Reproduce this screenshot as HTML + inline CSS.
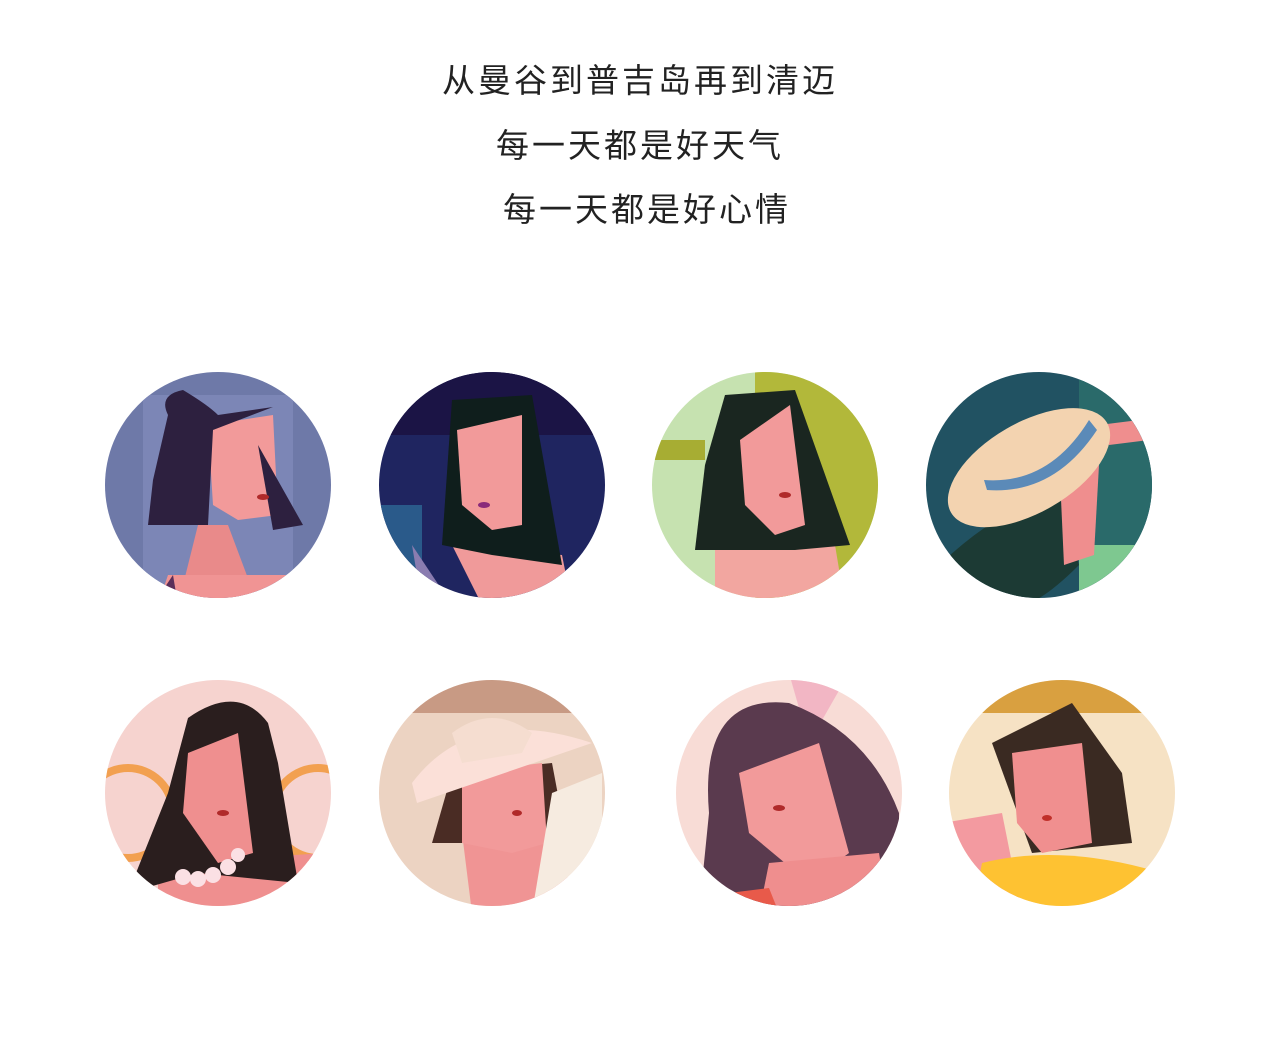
<!DOCTYPE html>
<html><head><meta charset="utf-8"><style>
html,body{margin:0;padding:0;background:#fff;width:1280px;height:1039px;overflow:hidden}
.t{position:absolute;left:0;width:1280px;text-align:center;font-family:"Liberation Sans","Noto Sans CJK SC",sans-serif;font-size:33px;letter-spacing:3px;color:#222}
svg{position:absolute;left:0;top:0}
</style></head><body>
<div class="t" style="top:54px">从曼谷到普吉岛再到清迈</div>
<div class="t" style="top:119px">每一天都是好天气</div>
<div class="t" style="top:183px;left:7px">每一天都是好心情</div>
<svg width="1280" height="1039">
<defs><clipPath id="c"><circle cx="0" cy="0" r="113"/></clipPath></defs>

<g transform="translate(218,485)" clip-path="url(#c)">
<rect x="-120" y="-120" width="240" height="240" fill="#6e79a8"/>
<rect x="-75" y="-90" width="150" height="210" fill="#7c86b6"/>
<path d="M10,40 L40,120 L-40,120 L-20,40Z" fill="#e98a8a"/>
<path d="M-50,90 L-60,120 L90,120 L70,90Z" fill="#f09494"/>
<path d="M-45,90 L-65,120 L-40,120Z" fill="#5a2f5a"/>
<path d="M-10,-60 L55,-70 L60,30 L20,35 L-5,20Z" fill="#f29a9a"/>
<path d="M-65,-5 L-50,-70 Q-60,-90 -35,-95 Q-10,-80 0,-70 L55,-78 L-5,-55 L-10,40 L-70,40Z" fill="#2d203f"/>
<path d="M40,-40 L85,40 L55,45Z" fill="#2d203f"/>
<ellipse cx="45" cy="12" rx="6" ry="3" fill="#b02a2a"/>
</g>

<g transform="translate(492,485)" clip-path="url(#c)">
<rect x="-120" y="-120" width="240" height="240" fill="#1f2560"/>
<rect x="-120" y="-120" width="240" height="70" fill="#1b1445"/>
<rect x="-120" y="20" width="50" height="100" fill="#2a5a8a"/>
<path d="M-40,60 L-10,120 L80,120 L70,70Z" fill="#f09a9a"/>
<path d="M-40,-85 L40,-90 L70,80 L0,70 L-50,60Z" fill="#0f1e1c"/>
<path d="M-35,-55 L30,-70 L30,40 L0,45 L-30,20Z" fill="#f29a9a"/>
<path d="M-80,60 L-40,120 L-70,120Z" fill="#8a7cb0"/>
<ellipse cx="-8" cy="20" rx="6" ry="3" fill="#8a2a7a"/>
</g>

<g transform="translate(765,485)" clip-path="url(#c)">
<rect x="-120" y="-120" width="240" height="240" fill="#c6e2b0"/>
<rect x="-10" y="-120" width="130" height="240" fill="#b2b83a"/>
<rect x="-120" y="-45" width="60" height="20" fill="#a7ad33"/>
<path d="M-50,60 L-50,120 L80,120 L70,60Z" fill="#f2a6a0"/>
<path d="M-40,-90 L30,-95 L85,60 L30,65 L-70,65 L-60,-20Z" fill="#1a2620"/>
<path d="M-25,-45 L25,-80 L40,40 L10,50 L-20,20Z" fill="#f29a9a"/>
<ellipse cx="20" cy="10" rx="6" ry="3" fill="#b02a2a"/>
</g>

<g transform="translate(1039,485)" clip-path="url(#c)">
<rect x="-120" y="-120" width="240" height="240" fill="#215262"/>
<rect x="40" y="-120" width="80" height="240" fill="#2a6a6a"/>
<rect x="40" y="60" width="80" height="60" fill="#7ec890"/>
<path d="M-110,90 Q-40,20 20,10 L40,80 Q0,120 -20,120 L-110,120Z" fill="#1c3a34"/>
<path d="M20,-30 L60,-20 L55,70 L25,80Z" fill="#ef8e8e"/>
<path d="M60,-60 L100,-65 L110,-45 L70,-40Z" fill="#ef8e8e"/>
<ellipse cx="0" cy="-20" rx="90" ry="45" transform="rotate(-30)" fill="#f3d3b0"/>
<path d="M-55,-5 Q10,0 50,-65 L58,-55 Q15,10 -52,5Z" fill="#5b8ab8"/>
</g>

<g transform="translate(218,793)" clip-path="url(#c)">
<rect x="-120" y="-120" width="240" height="240" fill="#f6d3cf"/>
<circle cx="-90" cy="20" r="45" fill="none" stroke="#f2a050" stroke-width="8"/>
<circle cx="100" cy="20" r="45" fill="none" stroke="#f2a050" stroke-width="8"/>
<path d="M-60,70 L-60,120 L110,120 L110,60Z" fill="#ef8f8f"/>
<path d="M-30,-75 Q20,-110 50,-70 L60,-30 L80,90 L-20,80 L-90,100 L-50,0Z" fill="#2a1e1e"/>
<path d="M-30,-40 L20,-60 L35,60 L0,70 L-35,20Z" fill="#ef8f8f"/>
<g fill="#fbe0e4"><circle cx="-35" cy="84" r="8"/><circle cx="-20" cy="86" r="8"/><circle cx="-5" cy="82" r="8"/><circle cx="10" cy="74" r="8"/><circle cx="20" cy="62" r="7"/></g>
<ellipse cx="5" cy="20" rx="6" ry="3" fill="#b02a2a"/>
</g>

<g transform="translate(492,793)" clip-path="url(#c)">
<rect x="-120" y="-120" width="240" height="240" fill="#ecd3c2"/>
<rect x="-120" y="-120" width="240" height="40" fill="#c89a84"/>
<path d="M-30,40 L-20,120 L80,120 L70,40Z" fill="#f09494"/>
<path d="M-60,50 L-40,-20 L60,-30 L75,50Z" fill="#4a2c24"/>
<path d="M-30,-20 L50,-30 L55,50 L20,60 L-30,50Z" fill="#f29a9a"/>
<path d="M-80,-10 Q-20,-90 100,-50 L-75,10Z" fill="#fbe0d8"/>
<path d="M-40,-60 Q0,-90 40,-60 L30,-40 L-30,-30Z" fill="#f5ddd0"/>
<path d="M60,0 L110,-20 L110,120 L40,120Z" fill="#f6ebe0"/>
<ellipse cx="25" cy="20" rx="5" ry="3" fill="#b02a2a"/>
</g>

<g transform="translate(789,793)" clip-path="url(#c)">
<rect x="-120" y="-120" width="240" height="240" fill="#f8dcd6"/>
<path d="M0,-120 L60,-120 L20,-50Z" fill="#f2b6c4"/>
<path d="M-90,120 L-80,20 Q-90,-100 0,-90 Q80,-60 110,20 L110,120Z" fill="#5a3a4e"/>
<path d="M-50,-20 L30,-50 L60,60 L20,90 L-40,40Z" fill="#f29a9a"/>
<path d="M-20,70 L-30,120 L100,120 L90,60Z" fill="#ef8e8e"/>
<path d="M-60,100 L-60,120 L-10,120 L-20,95Z" fill="#e85a4a"/>
<ellipse cx="-10" cy="15" rx="6" ry="3" fill="#b02a2a"/>
</g>

<g transform="translate(1062,793)" clip-path="url(#c)">
<rect x="-120" y="-120" width="240" height="240" fill="#f6e2c4"/>
<rect x="-120" y="-120" width="240" height="40" fill="#d9a040"/>
<path d="M-120,30 L-60,20 L-40,120 L-120,120Z" fill="#f39aa0"/>
<path d="M-80,70 Q0,50 100,80 L100,120 L-90,120Z" fill="#fec232"/>
<path d="M-70,-50 L10,-90 L60,-20 L70,50 L-30,60 Z" fill="#3a2a22"/>
<path d="M-50,-40 L20,-50 L30,50 L-20,60 L-45,30Z" fill="#f08f8f"/>
<ellipse cx="-15" cy="25" rx="5" ry="3" fill="#c0302a"/>
</g>
</svg>
</body></html>
